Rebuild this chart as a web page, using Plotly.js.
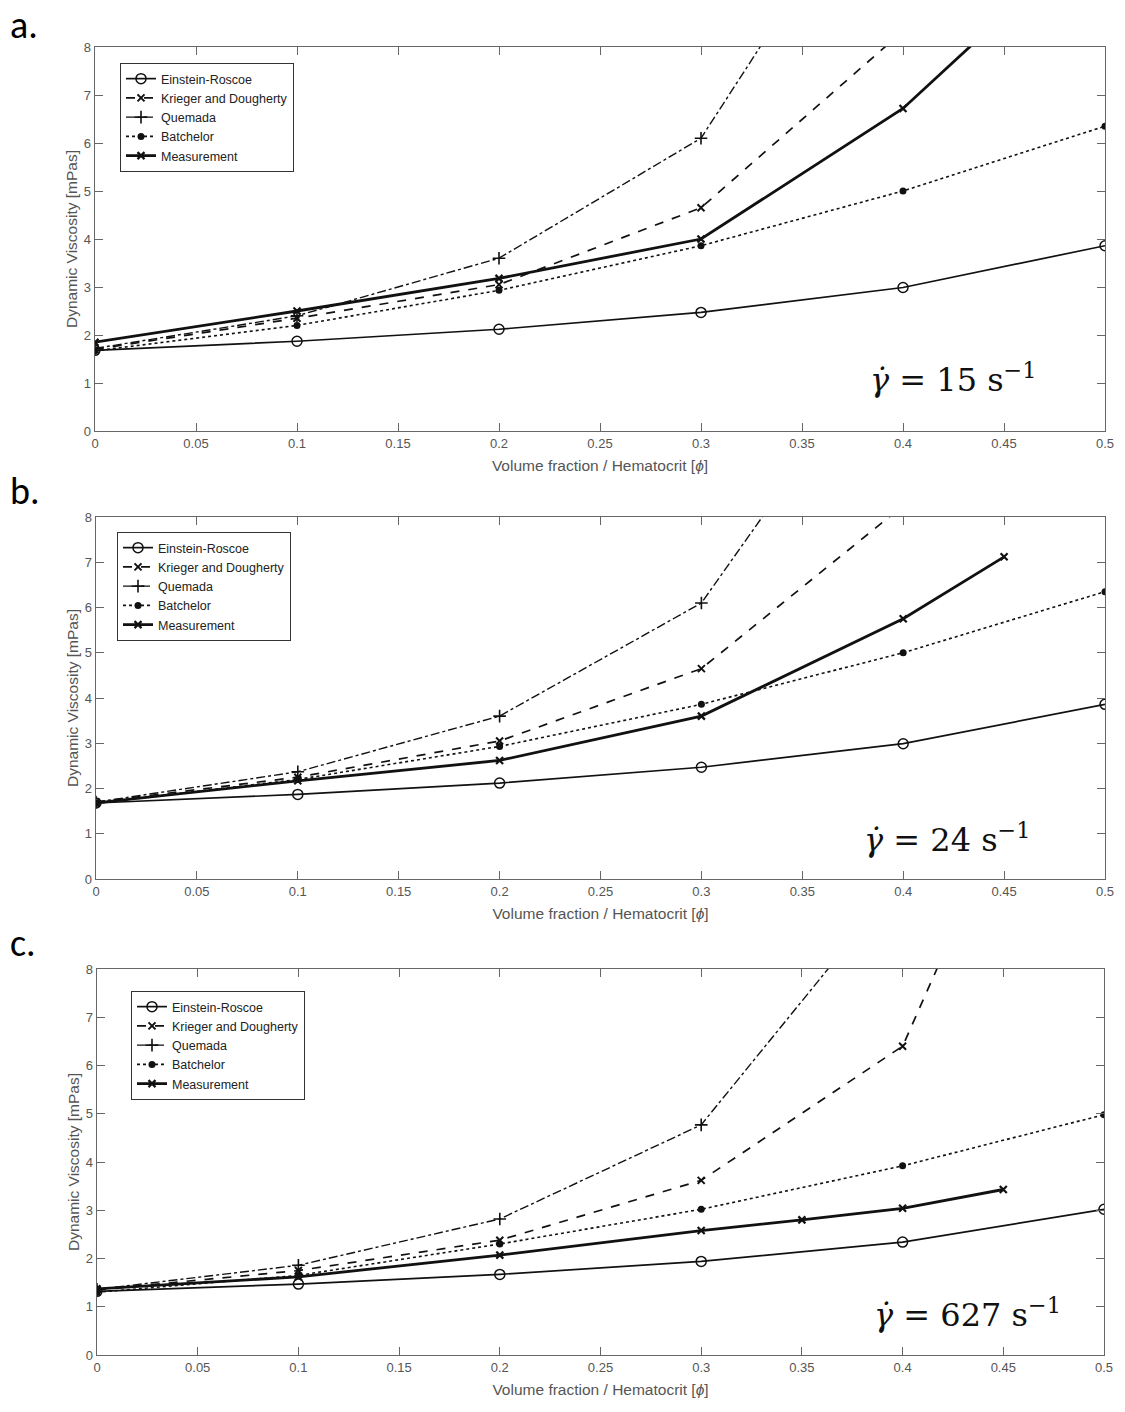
<!DOCTYPE html>
<html>
<head>
<meta charset="utf-8">
<script src="https://cdn.plot.ly/plotly-3.0.1.min.js"></script>
<style>html,body{margin:0;padding:0;background:#fff;}#chart{width:1125px;height:1412px;}</style>
</head>
<body>
<div id="chart"></div>
<script>
// ---- data ----
const seriesNames = ["Einstein-Roscoe", "Krieger and Dougherty", "Quemada", "Batchelor", "Measurement"];
const phi = [0, 0.1, 0.2, 0.3, 0.4, 0.5];
const phiMeasA = [0, 0.1, 0.2, 0.3, 0.4, 0.45];
const phiMeasB = [0, 0.1, 0.2, 0.3, 0.4, 0.45];
const phiMeasC = [0, 0.1, 0.2, 0.3, 0.35, 0.4, 0.45];

// panel a: shear rate 15 1/s
const einsteinA = [1.68, 1.87, 2.12, 2.47, 2.99, 3.86];
const kriegerA  = [1.70, 2.35, 3.05, 4.65, 8.33, 16.0];
const quemadaA  = [1.72, 2.40, 3.60, 6.10, 12.6, 30.0];
const batchelorA= [1.67, 2.20, 2.93, 3.86, 5.00, 6.35];
const measA     = [1.85, 2.50, 3.18, 4.00, 6.72, 8.66];

// panel b: shear rate 24 1/s
const einsteinB = [1.68, 1.87, 2.12, 2.47, 2.99, 3.86];
const kriegerB  = [1.70, 2.25, 3.05, 4.65, 8.25, 16.0];
const quemadaB  = [1.70, 2.37, 3.60, 6.10, 12.4, 30.0];
const batchelorB= [1.67, 2.20, 2.93, 3.86, 5.00, 6.35];
const measB     = [1.68, 2.17, 2.62, 3.60, 5.75, 7.12];

// panel c: shear rate 627 1/s
const einsteinC = [1.32, 1.47, 1.67, 1.94, 2.34, 3.02];
const kriegerC  = [1.35, 1.75, 2.38, 3.62, 6.40, 15.8];
const quemadaC  = [1.36, 1.86, 2.82, 4.77, 9.90, 25.0];
const batchelorC= [1.30, 1.65, 2.30, 3.02, 3.92, 4.98];
const measC     = [1.37, 1.62, 2.07, 2.58, 2.80, 3.04, 3.43];

const panelLabels = ["a.", "b.", "c."];
const shearRates = ["15", "24", "627"];
const xTicks = [0, 0.05, 0.1, 0.15, 0.2, 0.25, 0.3, 0.35, 0.4, 0.45, 0.5];
const xTickText = ["0","0.05","0.1","0.15","0.2","0.25","0.3","0.35","0.4","0.45","0.5"];
const yTicks = [0,1,2,3,4,5,6,7,8];

// ---- styles ----
const W = 1125, H = 1412;
const styles = [
  {dash:'solid', width:1.7, symbol:'circle-open', size:10, mline:1.5},
  {dash:'dash', width:1.7, symbol:'x-thin-open', size:7, mline:2},
  {dash:'dashdot', width:1.4, symbol:'cross-thin-open', size:9, mline:1.6},
  {dash:'dot', width:1.6, symbol:'circle', size:7, mline:0},
  {dash:'solid', width:2.8, symbol:'x-thin-open', size:7, mline:2.2}
];
const panels = [
  {ys:[einsteinA,kriegerA,quemadaA,batchelorA,measA], xm:phiMeasA, top:47, bottom:431, left:95, right:1105, leg:[120,63], lab:25, ann:[868,378]},
  {ys:[einsteinB,kriegerB,quemadaB,batchelorB,measB], xm:phiMeasB, top:517, bottom:879, left:96, right:1105, leg:[117,532], lab:491, ann:[862,838]},
  {ys:[einsteinC,kriegerC,quemadaC,batchelorC,measC], xm:phiMeasC, top:969, bottom:1355, left:97, right:1104, leg:[131,991], lab:943, ann:[872,1313]}
];

const traces = [];
const layout = {
  width: W, height: H,
  margin: {l:0, r:0, t:0, b:0},
  paper_bgcolor: '#fff', plot_bgcolor: '#fff',
  showlegend: true,
  font: {family: 'Liberation Sans, Arial, sans-serif', color: '#444'},
  annotations: []
};

panels.forEach((p, i) => {
  const n = i === 0 ? '' : String(i + 1);
  const xa = 'x' + n, ya = 'y' + n;
  const legName = i === 0 ? 'legend' : 'legend' + (i + 1);
  p.ys.forEach((ys, k) => {
    const s = styles[k];
    traces.push({
      x: k === 4 ? p.xm : phi,
      y: ys,
      name: seriesNames[k],
      xaxis: xa, yaxis: ya,
      legend: legName,
      mode: 'lines+markers',
      cliponaxis: true,
      line: {color: '#111', width: s.width, dash: s.dash},
      marker: {symbol: s.symbol, size: s.size, color: '#111', line: {color: '#111', width: s.mline}}
    });
  });
  const axBase = {
    showline: true, linecolor: '#666', linewidth: 1.3, mirror: 'ticks',
    ticks: 'inside', ticklen: 8, tickcolor: '#666', tickwidth: 1,
    showgrid: false, zeroline: false,
    tickfont: {size: 13, color: '#555', family: 'Liberation Sans, Arial, sans-serif'}
  };
  layout['xaxis' + n] = Object.assign({}, axBase, {
    domain: [p.left / W, p.right / W],
    range: [0, 0.5], tickvals: xTicks, ticktext: xTickText,
    anchor: ya,
    title: {text: 'Volume fraction / Hematocrit [<i>ϕ</i>]', font: {size: 15.5, color: '#555'}, standoff: 10}
  });
  layout['yaxis' + n] = Object.assign({}, axBase, {
    domain: [1 - p.bottom / H, 1 - p.top / H],
    range: [0, 8], tickvals: yTicks,
    anchor: xa,
    title: {text: 'Dynamic Viscosity [mPas]', font: {size: 15.5, color: '#555'}, standoff: 2}
  });
  layout[legName] = {
    x: p.leg[0] / W, y: 1 - p.leg[1] / H, xref: 'paper', yref: 'paper',
    xanchor: 'left', yanchor: 'top',
    bgcolor: '#fff', bordercolor: '#333', borderwidth: 1,
    font: {size: 12.5, color: '#222', family: 'Liberation Sans, Arial, sans-serif'},
    tracegroupgap: 0, itemwidth: 30
  };
  layout.annotations.push({
    text: panelLabels[i], xref: 'paper', yref: 'paper',
    x: 8 / W, y: 1 - p.lab / H, xanchor: 'left', yanchor: 'middle',
    showarrow: false, font: {size: 38, color: '#000', family: 'Carlito, Liberation Sans, sans-serif'}
  });
  layout.annotations.push({
    text: '<i>γ̇</i> = ' + shearRates[i] + ' s<sup>−1</sup>', xref: 'paper', yref: 'paper',
    x: p.ann[0] / W, y: 1 - p.ann[1] / H, xanchor: 'left', yanchor: 'middle',
    showarrow: false, font: {size: 32, color: '#111', family: 'DejaVu Serif, Liberation Serif, serif'}
  });
});

Plotly.newPlot('chart', traces, layout, {staticPlot: true});
</script>
</body>
</html>
